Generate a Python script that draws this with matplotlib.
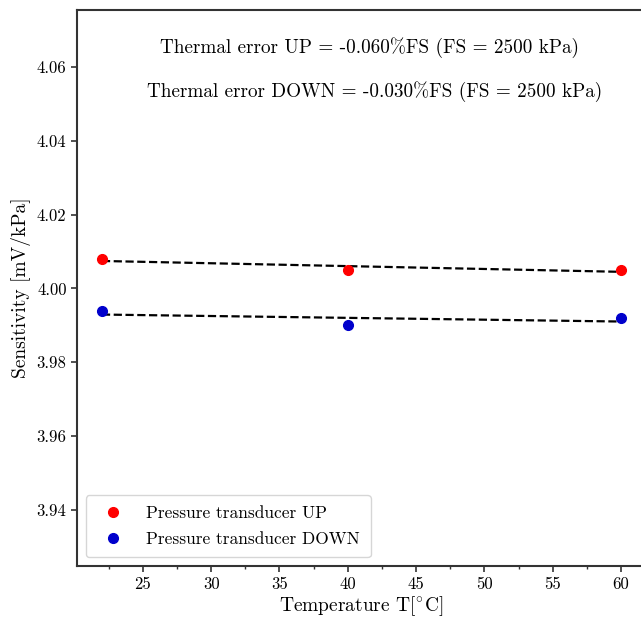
import numpy as np
import matplotlib
matplotlib.use("Agg")
import matplotlib.pyplot as plt
from matplotlib.ticker import MultipleLocator

plt.rcParams["font.family"] = "serif"
plt.rcParams["font.serif"] = ["cmr10"]
plt.rcParams["mathtext.fontset"] = "cm"
plt.rcParams["axes.unicode_minus"] = False

# data
temperature = [22, 40, 60]
sens_up = [4.008, 4.005, 4.005]
sens_down = [3.994, 3.990, 3.992]
label_up = "Pressure transducer UP"
label_down = "Pressure transducer DOWN"
note_up = "Thermal error UP = -0.060%FS (FS = 2500 kPa)"
note_down = "Thermal error DOWN = -0.030%FS (FS = 2500 kPa)"

fig = plt.figure(figsize=(6.41, 6.19), dpi=100)
ax = fig.add_axes([0.12, 0.0856, 0.886, 0.898])

ax.plot(temperature, sens_up, "o", color="#ff0000", markersize=7, label=label_up, zorder=3)
ax.plot(temperature, sens_down, "o", color="#0000cc", markersize=7, label=label_down, zorder=3)

#linear fits for each transducer
xfit = np.array([temperature[0], temperature[-1]])
for sens in [sens_up, sens_down]:
    p = np.polyfit(temperature, sens, 1)
    ax.plot(xfit, np.polyval(p, xfit), "--", color="black", linewidth=1.6, zorder=2)

ax.set_xlim(20.17, 61.75)
ax.set_ylim(3.9248, 4.0754)
ax.set_xticks([25, 30, 35, 40, 45, 50, 55, 60])
ax.set_yticks([3.94, 3.96, 3.98, 4.00, 4.02, 4.04, 4.06])
ax.xaxis.set_minor_locator(MultipleLocator(2.5))
ax.tick_params(axis="both", labelsize=12, color="#333333", width=1.2, length=4)
ax.tick_params(axis="x", which="minor", color="#333333", width=1.0, length=2.5)
for s in ax.spines.values():
    s.set_linewidth(1.5)
    s.set_color("#333333")

ax.set_xlabel(r"Temperature T[$^{\circ}$C]", fontsize=14, labelpad=2)
ax.set_ylabel("Sensitivity [mV/kPa]", fontsize=14)

ax.text(0.515, 0.933, note_up, transform=ax.transAxes, ha="center", va="center", fontsize=13.8)
ax.text(0.525, 0.853, note_down, transform=ax.transAxes, ha="center", va="center", fontsize=13.8)

ax.legend(loc="lower left", fontsize=12.5, frameon=True, borderpad=0.6,
          handletextpad=0.9, labelspacing=0.6)

fig.savefig("out.png", dpi=100)
